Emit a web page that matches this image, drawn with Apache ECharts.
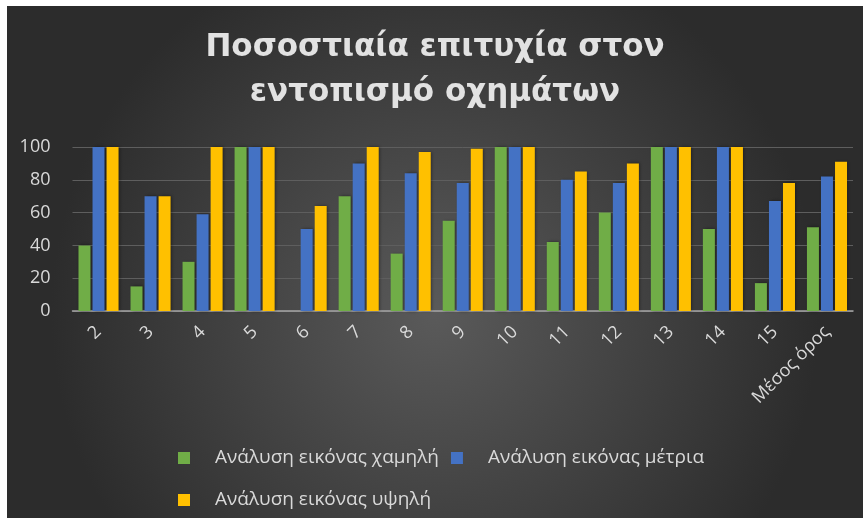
<!DOCTYPE html>
<html>
<head>
<meta charset="utf-8">
<script src="https://cdn.jsdelivr.net/npm/echarts@6/dist/echarts.min.js"></script>
<style>
  html, body { margin: 0; padding: 0; background: #ffffff; }
  #chart { position: absolute; left: 7px; top: 6px; width: 856px; height: 512px; }
</style>
</head>
<body>
<div id="chart"></div>
<script>
// categories (test cases + average)
var categories = ['2', '3', '4', '5', '6', '7', '8', '9', '10', '11', '12', '13', '14', '15', 'Μέσος όρος'];

var seriesNames = ['Ανάλυση εικόνας χαμηλή', 'Ανάλυση εικόνας μέτρια', 'Ανάλυση εικόνας υψηλή'];

// success rate per resolution
var lowRes  = [40, 15, 30, 100, 0, 70, 35, 55, 100, 42, 60, 100, 50, 17, 51];
var midRes  = [100, 70, 59, 100, 50, 90, 84, 78, 100, 80, 78, 100, 100, 67, 82];
var highRes = [100, 70, 100, 100, 64, 100, 97, 99, 100, 85, 90, 100, 100, 78, 91];

var yTicks = [0, 20, 40, 60, 80, 100];

var colors = ['#70ad47', '#4472c4', '#ffc000'];

var chart = echarts.init(document.getElementById('chart'));

function barSeries(name, data, color) {
    return {
        name: name,
        type: 'bar',
        data: data,
        barWidth: 12,
        barGap: '17%',
        itemStyle: {
            color: color,
            shadowColor: 'rgba(0,0,0,0.45)',
            shadowBlur: 3,
            shadowOffsetX: 1
        }
    };
}

var legendText = { color: '#d9d9d9', fontSize: 19, fontFamily: 'Open Sans', lineHeight: 22, padding: [0, 0, 0, 20] };

chart.setOption({
    backgroundColor: {
        type: 'radial', x: 0.5, y: 0.6, r: 0.75,
        colorStops: [
            { offset: 0, color: '#5a5a5a' },
            { offset: 1, color: '#2c2c2c' }
        ]
    },
    textStyle: { fontFamily: 'Open Sans' },
    title: {
        text: 'Ποσοστιαία επιτυχία στον\nεντοπισμό οχημάτων',
        left: 'center',
        top: 14,
        textStyle: {
            color: '#e2e2e2',
            fontSize: 31,
            fontWeight: 'bold',
            fontFamily: 'DejaVu Sans',
            lineHeight: 45
        }
    },
    legend: [{
        data: seriesNames.slice(0, 2),
        left: 166,
        top: 436,
        itemWidth: 12,
        itemHeight: 12,
        itemGap: 12,
        icon: 'rect',
        textStyle: legendText
    }, {
        data: seriesNames.slice(2),
        left: 166,
        top: 478,
        itemWidth: 12,
        itemHeight: 12,
        icon: 'rect',
        textStyle: legendText
    }],
    grid: { left: 65.5, right: 10, top: 141, bottom: 207 },
    xAxis: {
        type: 'category',
        data: categories,
        axisLine: { lineStyle: { color: '#a6a6a6', width: 1.5 } },
        axisTick: { show: false },
        axisLabel: {
            color: '#d9d9d9',
            fontSize: 18,
            fontFamily: 'Open Sans',
            rotate: 45,
            interval: 0,
            margin: 18
        }
    },
    yAxis: {
        type: 'value',
        min: yTicks[0],
        max: yTicks[yTicks.length - 1],
        interval: 20,
        axisLine: { show: false },
        axisTick: { show: false },
        axisLabel: { color: '#d9d9d9', fontSize: 18, fontFamily: 'Open Sans', margin: 22 },
        splitLine: { lineStyle: { color: '#5e5e5e', width: 1 } }
    },
    series: [
        barSeries(seriesNames[0], lowRes, colors[0]),
        barSeries(seriesNames[1], midRes, colors[1]),
        barSeries(seriesNames[2], highRes, colors[2])
    ]
});
</script>
</body>
</html>
